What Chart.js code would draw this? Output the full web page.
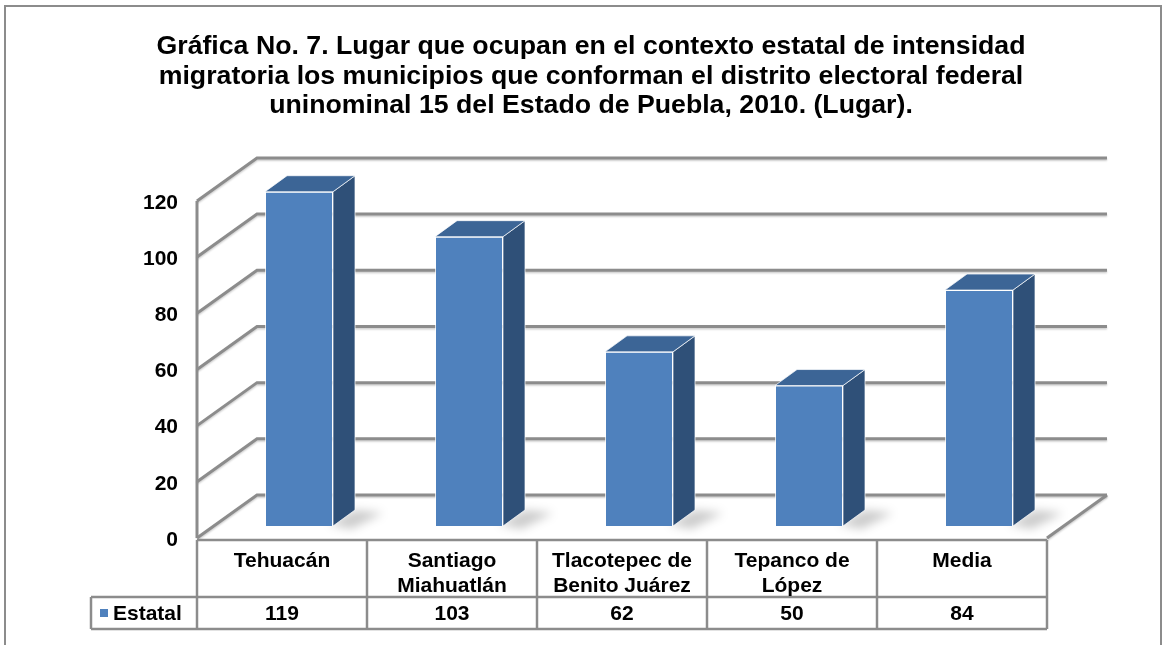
<!DOCTYPE html>
<html>
<head>
<meta charset="utf-8">
<script src="https://cdn.jsdelivr.net/npm/chart.js@4.4.1/dist/chart.umd.min.js"></script>
<style>
  body { margin: 0; background: #fff; }
  canvas { display: block; }
</style>
</head>
<body>
<canvas id="lugar" width="1167" height="645"></canvas>
<script>
const municipios = [["Tehuacán"], ["Santiago", "Miahuatlán"], ["Tlacotepec de", "Benito Juárez"], ["Tepanco de", "López"], ["Media"]];
const estatal = [119, 103, 62, 50, 84];
const ejeY = [0, 20, 40, 60, 80, 100, 120];
const serie = "Estatal";
const titulo = [
  "Gráfica No. 7. Lugar que ocupan en el contexto estatal de intensidad",
  "migratoria los municipios que conforman el distrito electoral federal",
  "uninominal 15 del Estado de Puebla, 2010. (Lugar).",
];

// desplazamientos de la caja 3D respecto al plano de las barras
const FRENTE = { dx: -17, dy: 12 };
const FONDO = { dx: 43, dy: -31 };
const BARRA = { dx: 22, dy: -16 };
const GRIS = "#8c8c8c";
const AZUL = "#4f81bd";
const FUENTE = "'Liberation Sans', Arial, sans-serif";

function poligono(ctx, pts, relleno, borde) {
  ctx.beginPath();
  ctx.moveTo(pts[0][0], pts[0][1]);
  for (let i = 1; i < pts.length; i++) ctx.lineTo(pts[i][0], pts[i][1]);
  ctx.closePath();
  ctx.fillStyle = relleno;
  ctx.fill();
  if (borde) {
    ctx.strokeStyle = borde;
    ctx.lineWidth = 1;
    ctx.stroke();
  }
}

function linea(ctx, x1, y1, x2, y2) {
  ctx.beginPath();
  ctx.moveTo(x1, y1);
  ctx.lineTo(x2, y2);
  ctx.stroke();
}

const caja3d = {
  id: "caja3d",
  beforeDraw(chart) {
    const ctx = chart.ctx;
    ctx.save();
    ctx.fillStyle = "#fff";
    ctx.fillRect(0, 0, chart.width, chart.height);
    ctx.strokeStyle = GRIS;
    ctx.lineWidth = 2;
    ctx.strokeRect(5, 6, 1156, 700);
    ctx.restore();
  },
  beforeDatasetsDraw(chart) {
    const { ctx, chartArea: a, scales: { y } } = chart;
    ctx.save();
    ctx.strokeStyle = GRIS;
    ctx.lineWidth = 3;
    ctx.shadowColor = "rgba(0,0,0,0.2)";
    ctx.shadowOffsetY = 1.5;
    ctx.shadowBlur = 2;

    // pared lateral y pared del fondo
    ejeY.forEach(v => {
      const py = y.getPixelForValue(v);
      ctx.beginPath();
      ctx.moveTo(a.left + FRENTE.dx, py + FRENTE.dy);
      ctx.lineTo(a.left + FONDO.dx, py + FONDO.dy);
      ctx.lineTo(a.right + FONDO.dx, py + FONDO.dy);
      ctx.stroke();
    });

    // borde derecho del piso y eje frontal
    const y0 = y.getPixelForValue(0);
    const yTop = y.getPixelForValue(ejeY[ejeY.length - 1]);
    linea(ctx, a.right + FRENTE.dx, y0 + FRENTE.dy, a.right + FONDO.dx, y0 + FONDO.dy);
    ctx.shadowColor = "transparent";
    linea(ctx, a.left + FRENTE.dx, yTop + FRENTE.dy, a.left + FRENTE.dx, y0 + FRENTE.dy);
    ctx.restore();

    // sombra de cada barra sobre el piso
    const meta = chart.getDatasetMeta(0);
    ctx.save();
    ctx.filter = "blur(5px)";
    ctx.fillStyle = "rgba(0,0,0,0.2)";
    meta.data.forEach(bar => {
      const { x: cx, base, width } = bar.getProps(["x", "base", "width"], true);
      const r = cx + width / 2;
      ctx.beginPath();
      ctx.moveTo(r - 4, base - 2);
      ctx.lineTo(r + BARRA.dx, base + BARRA.dy);
      ctx.lineTo(r + BARRA.dx + 28, base + BARRA.dy + 3);
      ctx.lineTo(r + 18, base + 3);
      ctx.closePath();
      ctx.fill();
    });
    ctx.restore();
  },
  afterDatasetsDraw(chart) {
    const ctx = chart.ctx;
    const meta = chart.getDatasetMeta(0);
    ctx.save();
    meta.data.forEach(bar => {
      const { x: cx, y: top, base, width } = bar.getProps(["x", "y", "base", "width"], true);
      const l = cx - width / 2;
      const r = cx + width / 2;
      // cara lateral
      poligono(ctx, [[r, top], [r + BARRA.dx, top + BARRA.dy], [r + BARRA.dx, base + BARRA.dy], [r, base]],
        "#2f5078", "rgba(255,255,255,0.7)");
      // tapa
      poligono(ctx, [[l, top], [l + BARRA.dx, top + BARRA.dy], [r + BARRA.dx, top + BARRA.dy], [r, top]],
        "#3c6596", "rgba(255,255,255,0.7)");
    });
    ctx.restore();
  },
  afterDraw(chart) {
    // tabla de datos bajo el piso
    const { ctx, scales: { x, y } } = chart;
    const paso = x.getPixelForValue(1) - x.getPixelForValue(0);
    const arriba = y.getPixelForValue(0) + FRENTE.dy + 2;
    const medio = arriba + 57;
    const abajo = medio + 32;
    const izq = x.getPixelForValue(0) - paso / 2 + FRENTE.dx;
    const der = izq + paso * municipios.length;
    const leyIzq = 91;

    ctx.save();
    ctx.strokeStyle = GRIS;
    ctx.lineWidth = 2.5;
    linea(ctx, izq, arriba, der, arriba);
    linea(ctx, leyIzq, medio, der, medio);
    linea(ctx, leyIzq, abajo, der, abajo);
    linea(ctx, leyIzq, medio, leyIzq, abajo);
    for (let i = 0; i <= municipios.length; i++) {
      const px = izq + paso * i;
      linea(ctx, px, arriba, px, abajo);
    }

    ctx.fillStyle = "#000";
    ctx.font = "bold 21px " + FUENTE;
    ctx.textAlign = "center";
    ctx.textBaseline = "middle";
    municipios.forEach((nombre, i) => {
      const cx = x.getPixelForValue(i) + FRENTE.dx;
      nombre.forEach((txt, j) => ctx.fillText(txt, cx, arriba + 21 + j * 25));
      ctx.fillText(String(estatal[i]), cx, medio + 17);
    });

    ctx.fillStyle = AZUL;
    ctx.fillRect(100, medio + 12, 8, 8);
    ctx.fillStyle = "#000";
    ctx.textAlign = "left";
    ctx.fillText(serie, 113, medio + 17);
    ctx.restore();
  },
};

new Chart("lugar", {
  type: "bar",
  data: {
    labels: municipios,
    datasets: [
      {
        label: serie,
        data: estatal,
        backgroundColor: AZUL,
        borderColor: "rgba(255,255,255,0.75)",
        borderWidth: 1,
        barPercentage: 0.4,
        categoryPercentage: 1,
      },
    ],
  },
  options: {
    responsive: false,
    animation: false,
    devicePixelRatio: 1,
    layout: { padding: { left: 118, right: 103, top: 0, bottom: 119 } },
    plugins: {
      legend: { display: false },
      tooltip: { enabled: false },
      title: {
        display: true,
        text: titulo,
        color: "#000",
        font: { family: FUENTE, size: 26.7, weight: "bold", lineHeight: 1.11 },
        padding: { top: 32, bottom: 68 },
      },
    },
    scales: {
      x: { display: false },
      y: {
        min: 0,
        max: 120,
        afterBuildTicks: scale => {
          scale.ticks = ejeY.map(v => ({ value: v }));
        },
        afterFit: scale => {
          scale.width = 96;
        },
        grid: { display: false, drawTicks: false },
        border: { display: false },
        ticks: {
          color: "#000",
          font: { family: FUENTE, size: 21, weight: "bold" },
          padding: 36,
          labelOffset: 14,
        },
      },
    },
  },
  plugins: [caja3d],
});
</script>
</body>
</html>
